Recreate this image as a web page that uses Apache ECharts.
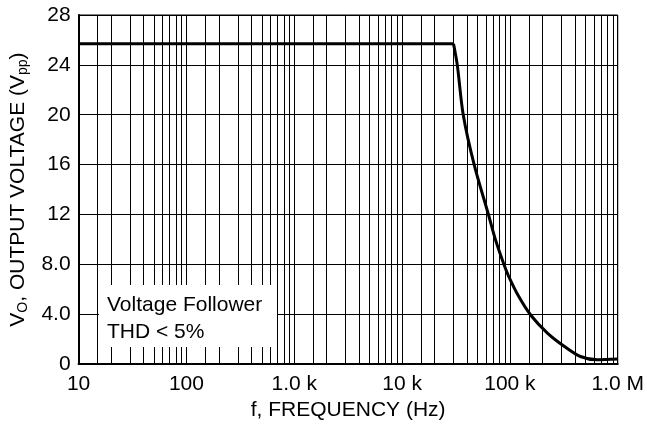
<!DOCTYPE html>
<html>
<head>
<meta charset="utf-8">
<script src="https://cdn.jsdelivr.net/npm/echarts@6/dist/echarts.min.js"></script>
<style>
  html, body { margin: 0; padding: 0; background: #fff; }
  #chart { width: 647px; height: 426px; }
</style>
</head>
<body>
<div id="chart"></div>
<script>
// flat part: full output swing up to the knee
var flatFreq = [10, 30000];
var flatVout = [25.7, 25.7];

// slew-rate limited roll-off (Hz, Vpp)
var rollFreq = [30000, 32500, 36900, 46600, 63200, 73300, 87900, 96700, 119400, 157000, 224000, 321000, 451000, 647000, 1000000];
var rollVout = [25.7, 24, 20, 16, 12, 10, 8, 7.1, 5.5, 3.9, 2.47, 1.41, 0.61, 0.34, 0.4];

var xTickLabels = ['10', '100', '1.0 k', '10 k', '100 k', '1.0 M'];
var yTickLabels = ['0', '4.0', '8.0', '12', '16', '20', '24', '28'];

// minor log grid lines inside each decade
var decades = [10, 100, 1000, 10000, 100000];
var minorSteps = [1.5, 2, 3, 4, 5, 6, 7, 8, 9];

var FONT = 'Liberation Sans, Arial, Helvetica, sans-serif';

var minorLines = [];
decades.forEach(function (d) {
    minorSteps.forEach(function (m) {
        minorLines.push({ xAxis: d * m });
    });
});

function pairs(xs, ys) {
    return xs.map(function (x, i) { return [x, ys[i]]; });
}

var chart = echarts.init(document.getElementById('chart'));

chart.setOption({
    animation: false,
    backgroundColor: '#fff',
    grid: {
        left: 78, right: 27, top: 15, bottom: 60,
        show: true, borderColor: '#000', borderWidth: 1
    },
    xAxis: {
        type: 'log',
        logBase: 10,
        min: 10,
        max: 1000000,
        name: 'f, FREQUENCY (Hz)',
        nameLocation: 'middle',
        nameGap: 30,
        nameTextStyle: { fontSize: 21, color: '#000', fontFamily: FONT },
        axisLine: { lineStyle: { color: '#000', width: 2 } },
        axisTick: { show: false },
        splitLine: { show: true, lineStyle: { color: '#000', width: 1 } },
        axisLabel: {
            color: '#000', fontSize: 21, fontFamily: FONT, margin: 10,
            formatter: function (v) {
                var i = Math.round(Math.log10(v)) - 1;
                return xTickLabels[i] || '';
            }
        }
    },
    yAxis: {
        type: 'value',
        min: 0,
        max: 28,
        interval: 4,
        name: '{m|V}{s|O}{m|, OUTPUT VOLTAGE (V}{s|pp}{m|)}',
        nameLocation: 'middle',
        nameGap: 46,
        nameRotate: 90,
        nameTextStyle: {
            rich: {
                m: { fontSize: 21, color: '#000', fontFamily: FONT, verticalAlign: 'middle', lineHeight: 24 },
                s: { fontSize: 14, color: '#000', fontFamily: FONT, verticalAlign: 'bottom', lineHeight: 14 }
            }
        },
        axisLine: { show: true, lineStyle: { color: '#000', width: 2 } },
        axisTick: { show: false },
        splitLine: { show: true, lineStyle: { color: '#000', width: 1 } },
        axisLabel: {
            color: '#000', fontSize: 21, fontFamily: FONT, margin: 8,
            formatter: function (v) {
                return yTickLabels[Math.round(v / 4)];
            }
        }
    },
    graphic: [
        {
            type: 'rect', z: 100,
            shape: { x: 99, y: 285, width: 178, height: 62 },
            style: { fill: '#fff' }
        },
        {
            type: 'text', z: 101,
            style: {
                x: 107, y: 292,
                text: 'Voltage Follower\nTHD < 5%',
                fontSize: 21, lineHeight: 27, fontFamily: FONT, fill: '#000',
                verticalAlign: 'top'
            }
        }
    ],
    series: [{
        type: 'line',
        data: pairs(flatFreq, flatVout),
        showSymbol: false,
        lineStyle: { color: '#000', width: 3 },
        z: 5,
        markLine: {
            silent: true,
            symbol: 'none',
            label: { show: false },
            lineStyle: { color: '#000', width: 1, type: 'solid' },
            data: minorLines,
            z: 1
        }
    }, {
        type: 'line',
        data: pairs(rollFreq, rollVout),
        showSymbol: false,
        smooth: 0.3,
        lineStyle: { color: '#000', width: 3 },
        z: 5
    }]
});
</script>
</body>
</html>
